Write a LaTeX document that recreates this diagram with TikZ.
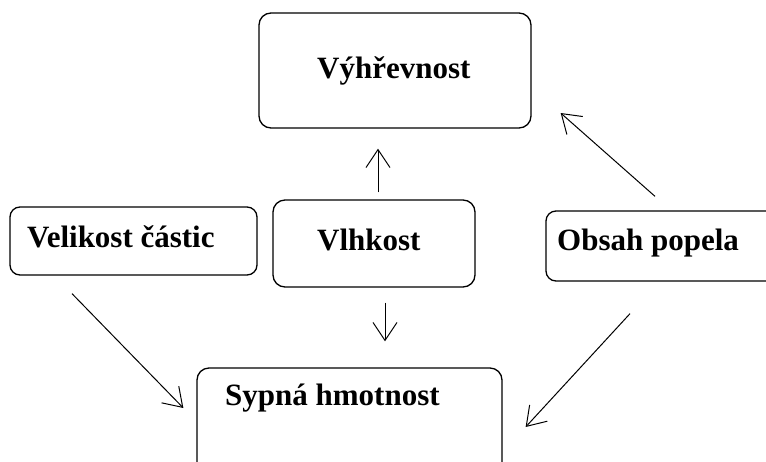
\documentclass[tikz,border=0pt]{standalone}
\usepackage{fontspec}
\setmainfont{Liberation Serif}
\usetikzlibrary{arrows.meta}
\begin{document}
\begin{tikzpicture}[x=1pt,y=-1pt,
  box/.style={draw=black,line width=1.3pt,rounded corners=12pt,inner sep=0pt},
  lbl/.style={anchor=base west,inner sep=0pt,font=\fontsize{31}{35}\selectfont\bfseries},
  arr/.style={line width=1pt,-{Straight Barb[length=18pt,width=24pt,line width=1pt]}}]
\useasboundingbox (0,0) rectangle (766,461);
\fill[white] (0,0) rectangle (766,461);
% boxes
\node[box,minimum width=272pt,minimum height=115pt] (vyh) at (395,70.5) {};
\node[box,minimum width=247pt,minimum height=68pt,rounded corners=10pt] (vel) at (133.5,241) {};
\node[box,minimum width=202pt,minimum height=87pt] (vlh) at (374,243.5) {};
\node[box,minimum width=244pt,minimum height=70pt,rounded corners=10pt] (obs) at (668,246) {};
\node[box,minimum width=305pt,minimum height=112pt] (syp) at (349.5,424) {};
% labels
\node[lbl] (tvyh) at (317,78) {Výhřevnost};
\node[lbl] (tvel) at (27,247) {Velikost částic};
\node[lbl] (tvlh) at (317,250) {Vlhkost};
\node[lbl] (tobs) at (557,250) {Obsah popela};
\node[lbl] (tsyp) at (225,405) {Sypná hmotnost};
% arrows
\draw[arr] ([shift={(4,-7)}]vlh.north) -- ([shift={(-17,20)}]vyh.south);
\draw[arr] ([shift={(11,15)}]vlh.south) -- ([shift={(35.5,-26)}]syp.north);
\draw[arr] ([shift={(-61.5,18)}]vel.south) -- ([shift={(-13,-16)}]syp.west);
\draw[arr] ([shift={(-38,32)}]obs.south) -- ([shift={(23,3)}]syp.east);
\draw[arr] ([shift={(-13,-14)}]obs.north) -- ([shift={(29,42.5)}]vyh.east);
\end{tikzpicture}
\end{document}
